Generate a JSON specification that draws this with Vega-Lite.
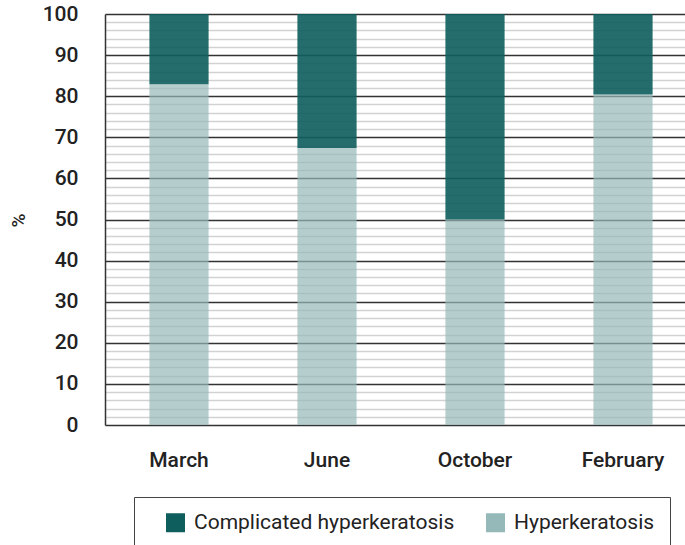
{
  "$schema": "https://vega.github.io/schema/vega-lite/v6.json",
  "width": 580,
  "height": 411,
  "autosize": {"type": "none"},
  "padding": {"left": 105, "top": 14, "right": 0, "bottom": 120},
  "background": "white",
  "data": {
    "values": [
      {"month": "March", "type": "Hyperkeratosis", "pct": 82.9},
      {"month": "March", "type": "Complicated hyperkeratosis", "pct": 17.1},
      {"month": "June", "type": "Hyperkeratosis", "pct": 67.4},
      {"month": "June", "type": "Complicated hyperkeratosis", "pct": 32.6},
      {"month": "October", "type": "Hyperkeratosis", "pct": 50},
      {"month": "October", "type": "Complicated hyperkeratosis", "pct": 50},
      {"month": "February", "type": "Hyperkeratosis", "pct": 80.4},
      {"month": "February", "type": "Complicated hyperkeratosis", "pct": 19.6}
    ]
  },
  "mark": {"type": "bar"},
  "encoding": {
    "x": {
      "field": "month",
      "type": "nominal",
      "sort": ["March", "June", "October", "February"],
      "scale": {"range": [0, 592], "paddingInner": 0.6, "paddingOuter": 0.3},
      "axis": {
        "title": null,
        "labelAngle": 0,
        "labelFont": "Roboto",
        "labelFontSize": 21,
        "labelFontWeight": 500,
        "labelColor": "#222",
        "labelPadding": 24,
        "ticks": false,
        "domain": false,
        "grid": false
      }
    },
    "y": {
      "field": "pct",
      "type": "quantitative",
      "stack": "zero",
      "scale": {"domain": [0, 100], "nice": false},
      "axis": {
        "title": "%",
        "titleFont": "Roboto",
        "titleFontSize": 19,
        "titleFontWeight": 500,
        "titleColor": "#222",
        "titleAngle": -90,
        "titleX": -87,
        "titleY": 206,
        "titleAlign": "center",
        "titleBaseline": "middle",
        "values": [0,2,4,6,8,10,12,14,16,18,20,22,24,26,28,30,32,34,36,38,40,42,44,46,48,50,52,54,56,58,60,62,64,66,68,70,72,74,76,78,80,82,84,86,88,90,92,94,96,98,100],
        "labelExpr": "datum.value % 10 === 0 ? datum.label : ''",
        "labelFont": "Roboto",
        "labelFontSize": 21,
        "labelFontWeight": 500,
        "labelColor": "#222",
        "labelPadding": 27,
        "ticks": false,
        "domain": true,
        "domainColor": "#333",
        "domainWidth": 1.5,
        "grid": true,
        "gridColor": {"condition": {"test": "datum.value % 10 === 0", "value": "#333"}, "value": "#d2d2d2"},
        "gridWidth": 1.5,
        "gridOpacity": 1
      }
    },
    "color": {
      "field": "type",
      "type": "nominal",
      "scale": {
        "domain": ["Complicated hyperkeratosis", "Hyperkeratosis"],
        "range": ["#0f5e5e", "#95b8b8"]
      },
      "legend": {
        "title": null,
        "orient": "none",
        "direction": "horizontal",
        "legendX": 29,
        "legendY": 483,
        "padding": 15,
        "symbolOffset": 16,
        "strokeColor": "#444",
        "fillColor": "white",
        "symbolType": "square",
        "symbolSize": 361,
        "symbolStrokeWidth": 0,
        "symbolOpacity": 1,
        "labelFont": "Roboto",
        "labelFontSize": 21,
        "labelColor": "#222",
        "labelOffset": 8,
        "labelLimit": 500,
        "labelExpr": "datum.value === 'Hyperkeratosis' ? datum.label + '\u2002\u200a' : datum.label",
        "columnPadding": 14
      }
    },
    "fillOpacity": {
      "field": "type",
      "type": "nominal",
      "scale": {
        "domain": ["Complicated hyperkeratosis", "Hyperkeratosis"],
        "range": [0.91, 0.7]
      },
      "legend": null
    },
    "order": {"field": "type", "sort": "descending"}
  },
  "config": {
    "view": {"stroke": null},
    "font": "Roboto"
  }
}
